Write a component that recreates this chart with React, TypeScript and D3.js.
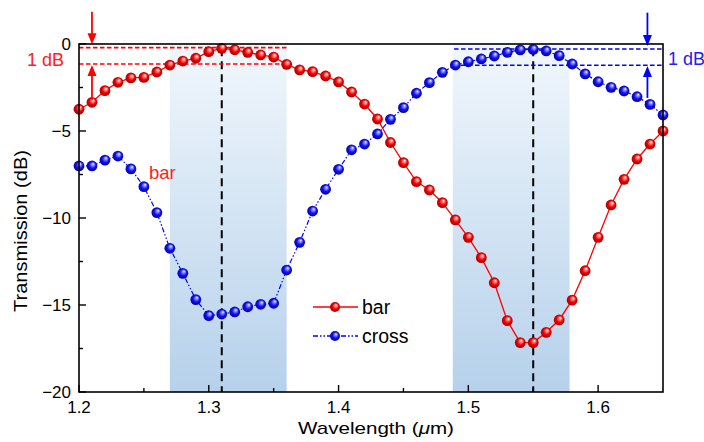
import { useEffect, useRef } from 'react'
import * as d3 from 'd3'

// wavelength grid, 1.20 … 1.65 µm in 0.01 steps (46 samples)
const wavelengths = [
  1.20, 1.21, 1.22, 1.23, 1.24, 1.25, 1.26, 1.27, 1.28, 1.29,
  1.30, 1.31, 1.32, 1.33, 1.34, 1.35, 1.36, 1.37, 1.38, 1.39,
  1.40, 1.41, 1.42, 1.43, 1.44, 1.45, 1.46, 1.47, 1.48, 1.49,
  1.50, 1.51, 1.52, 1.53, 1.54, 1.55, 1.56, 1.57, 1.58, 1.59,
  1.60, 1.61, 1.62, 1.63, 1.64, 1.65,
]
const barDb = [
  -3.75, -3.35, -2.68, -2.20, -1.95, -1.92, -1.61, -1.21, -0.98, -0.82,
  -0.44, -0.25, -0.33, -0.48, -0.63, -0.75, -1.17, -1.49, -1.59, -1.84,
  -2.18, -2.76, -3.45, -4.31, -5.66, -6.82, -7.91, -8.39, -9.12, -10.11,
  -11.11, -12.28, -13.72, -15.90, -17.16, -17.16, -16.57, -15.86, -14.72, -13.03,
  -11.11, -9.25, -7.78, -6.61, -5.75, -5.00,
]
const crossDb = [
  -7.01, -7.01, -6.67, -6.44, -7.18, -8.20, -9.69, -11.74, -13.18, -14.69,
  -15.61, -15.52, -15.40, -15.10, -14.96, -14.90, -12.99, -11.40, -9.60, -8.35,
  -7.20, -6.08, -5.75, -5.17, -4.33, -3.66, -2.83, -2.22, -1.63, -1.21,
  -1.02, -0.86, -0.69, -0.48, -0.34, -0.31, -0.40, -0.67, -1.15, -1.72,
  -2.17, -2.49, -2.70, -3.03, -3.47, -4.08,
]
const xTicks = [1.2, 1.3, 1.4, 1.5, 1.6]
const xMinor = [1.25, 1.35, 1.45, 1.55]
const yTicks = [0, -5, -10, -15, -20]
const yMinor = [-2.5, -7.5, -12.5, -17.5]
const bands = [[1.27, 1.36], [1.488, 1.578]]
const centers = [1.31, 1.55]
// 1 dB windows: [x0, x1, top dB, bottom dB]
const redWindow = [1.2, 1.36, -0.21, -1.15]
const blueWindow = [1.489, 1.65, -0.29, -1.22]

const W = 704, H = 442
const M = { left: 79, right: 41, top: 44, bottom: 50 }
const RED = '#ff0000', BLUE = '#0000ff'

export default function App() {
  const ref = useRef<SVGSVGElement>(null)

  useEffect(() => {
    document.body.style.margin = '0'
    const svg = d3.select(ref.current)
    svg.selectAll('*').remove()
    const x = d3.scaleLinear().domain([1.2, 1.65]).range([M.left, W - M.right])
    const y = d3.scaleLinear().domain([-20, 0]).range([H - M.bottom, M.top])
    const font = 'Liberation Sans, Arial, sans-serif'

    const defs = svg.append('defs')
    const bg = defs.append('linearGradient').attr('id', 'band').attr('x1', 0).attr('y1', 0).attr('x2', 0).attr('y2', 1)
    bg.append('stop').attr('offset', 0).attr('stop-color', '#f1f7fc')
    bg.append('stop').attr('offset', 1).attr('stop-color', '#b6d1eb')
    for (const [id, hi, mid, dark] of [['ballR', '#ff9a9a', '#f20000', '#9a0000'], ['ballB', '#9a9aff', '#1010f0', '#00009a']]) {
      const rg = defs.append('radialGradient').attr('id', id).attr('cx', 0.5).attr('cy', 0.5).attr('r', 0.55).attr('fx', 0.62).attr('fy', 0.3)
      rg.append('stop').attr('offset', 0).attr('stop-color', '#ffffff')
      rg.append('stop').attr('offset', 0.18).attr('stop-color', hi)
      rg.append('stop').attr('offset', 0.55).attr('stop-color', mid)
      rg.append('stop').attr('offset', 1).attr('stop-color', dark)
    }

    // shaded pass bands
    svg.append('g').selectAll('rect').data(bands).join('rect')
      .attr('x', d => x(d[0])).attr('width', d => x(d[1]) - x(d[0]))
      .attr('y', y(0)).attr('height', y(-20) - y(0)).attr('fill', 'url(#band)')

    // centre wavelengths
    svg.append('g').selectAll('line').data(centers).join('line')
      .attr('x1', d => x(d)).attr('x2', d => x(d)).attr('y1', y(-0.25)).attr('y2', y(-20))
      .attr('stroke', '#000').attr('stroke-width', 2).attr('stroke-dasharray', '8,5')

    // 1 dB windows
    for (const [win, col] of [[redWindow, RED], [blueWindow, BLUE]] as const) {
      for (const v of [win[2], win[3]]) {
        svg.append('line').attr('x1', x(win[0])).attr('x2', x(win[1])).attr('y1', y(v)).attr('y2', y(v))
          .attr('stroke', col).attr('stroke-width', 1.6).attr('stroke-dasharray', '4.5,2.5')
      }
    }

    const pts = (vals: number[]) => wavelengths.map((w, i) => [w, vals[i]] as [number, number])
    const line = d3.line<[number, number]>().x(d => x(d[0])).y(d => y(d[1]))
    svg.append('path').datum(pts(crossDb)).attr('d', line).attr('fill', 'none')
      .attr('stroke', BLUE).attr('stroke-width', 1.2).attr('stroke-dasharray', '5,2,1.5,2,1.5,2')
    svg.append('path').datum(pts(barDb)).attr('d', line).attr('fill', 'none')
      .attr('stroke', RED).attr('stroke-width', 1.3)

    svg.append('g').selectAll('circle').data(pts(crossDb)).join('circle')
      .attr('cx', d => x(d[0])).attr('cy', d => y(d[1])).attr('r', 5.4).attr('fill', 'url(#ballB)')
    svg.append('g').selectAll('circle').data(pts(barDb)).join('circle')
      .attr('cx', d => x(d[0])).attr('cy', d => y(d[1])).attr('r', 5.4).attr('fill', 'url(#ballR)')

    // arrows marking the 1 dB span
    const arrow = (xv: number, from: number, to: number, col: string) => {
      const x0 = x(xv), y0 = y(from), y1 = y(to)
      const dir = Math.sign(y1 - y0)
      svg.append('line').attr('x1', x0).attr('x2', x0).attr('y1', y0).attr('y2', y1 - dir * 6)
        .attr('stroke', col).attr('stroke-width', 1.8)
      svg.append('path').attr('d', `M${x0},${y1} L${x0 - 4.5},${y1 - dir * 11} L${x0 + 4.5},${y1 - dir * 11} Z`).attr('fill', col)
    }
    arrow(1.21, 1.85, -0.02, RED)
    arrow(1.21, -3.2, -1.2, RED)
    arrow(1.638, 1.8, -0.12, BLUE)
    arrow(1.638, -3.1, -1.27, BLUE)

    const txt = (tx: number, ty: number, s: string, col: string, size = 18, anchor = 'start') =>
      svg.append('text').attr('x', tx).attr('y', ty).attr('fill', col).attr('font-family', font)
        .attr('font-size', size).attr('text-anchor', anchor).attr('dominant-baseline', 'central').text(s)
    txt(27, 59.5, '1 dB', '#ff2020', 18)
    txt(668, 59, '1 dB', '#2020ff', 18)
    txt(149, 172, 'bar', '#ff2020', 18.5)

    // frame + ticks
    svg.append('rect').attr('x', x(1.2)).attr('y', y(0)).attr('width', x(1.65) - x(1.2)).attr('height', y(-20) - y(0))
      .attr('fill', 'none').attr('stroke', '#000').attr('stroke-width', 1.6)
    const tg = svg.append('g').attr('stroke', '#000').attr('stroke-width', 1.4)
    tg.selectAll('.xt').data([...xTicks.map(v => [v, 7]), ...xMinor.map(v => [v, 4])]).join('line')
      .attr('x1', d => x(d[0])).attr('x2', d => x(d[0])).attr('y1', y(-20)).attr('y2', d => y(-20) - d[1])
    tg.selectAll('.yt').data([...yTicks.map(v => [v, 7]), ...yMinor.map(v => [v, 4])]).join('line')
      .attr('y1', d => y(d[0])).attr('y2', d => y(d[0])).attr('x1', x(1.2)).attr('x2', d => x(1.2) + d[1])

    svg.append('g').selectAll('text').data(xTicks).join('text')
      .attr('x', d => x(d)).attr('y', 412.5).attr('text-anchor', 'middle')
      .attr('font-family', font).attr('font-size', 17).text(d => d.toFixed(1))
    svg.append('g').selectAll('text').data(yTicks).join('text')
      .attr('x', 71).attr('y', d => y(d)).attr('text-anchor', 'end').attr('dominant-baseline', 'central')
      .attr('font-family', font).attr('font-size', 17).text(d => d === 0 ? '0' : `−${-d}`)

    const xl = svg.append('text').attr('x', 376).attr('y', 434).attr('text-anchor', 'middle')
      .attr('font-family', font).attr('font-size', 17)
      .attr('textLength', 156).attr('lengthAdjust', 'spacingAndGlyphs')
    xl.append('tspan').text('Wavelength (')
    xl.append('tspan').attr('font-style', 'italic').text('μ')
    xl.append('tspan').text('m)')
    svg.append('text').attr('transform', `translate(27,231) rotate(-90)`)
      .attr('text-anchor', 'middle')
      .attr('font-family', font).attr('font-size', 17.5)
      .attr('textLength', 162).attr('lengthAdjust', 'spacingAndGlyphs').text('Transmission (dB)')

    // legend
    const leg = [['bar', RED, 'url(#ballR)', null, 307], ['cross', BLUE, 'url(#ballB)', '5,2,1.5,2,1.5,2', 336]] as const
    for (const [name, col, fill, dash, ly] of leg) {
      svg.append('line').attr('x1', 313).attr('x2', 358).attr('y1', ly).attr('y2', ly)
        .attr('stroke', col).attr('stroke-width', 1.3).attr('stroke-dasharray', dash)
      svg.append('circle').attr('cx', 335).attr('cy', ly).attr('r', 5).attr('fill', fill)
      txt(362, ly, name, '#000', 19.5)
    }
  }, [])

  return <svg ref={ref} width={W} height={H} style={{ display: 'block', background: '#fff' }} />
}
